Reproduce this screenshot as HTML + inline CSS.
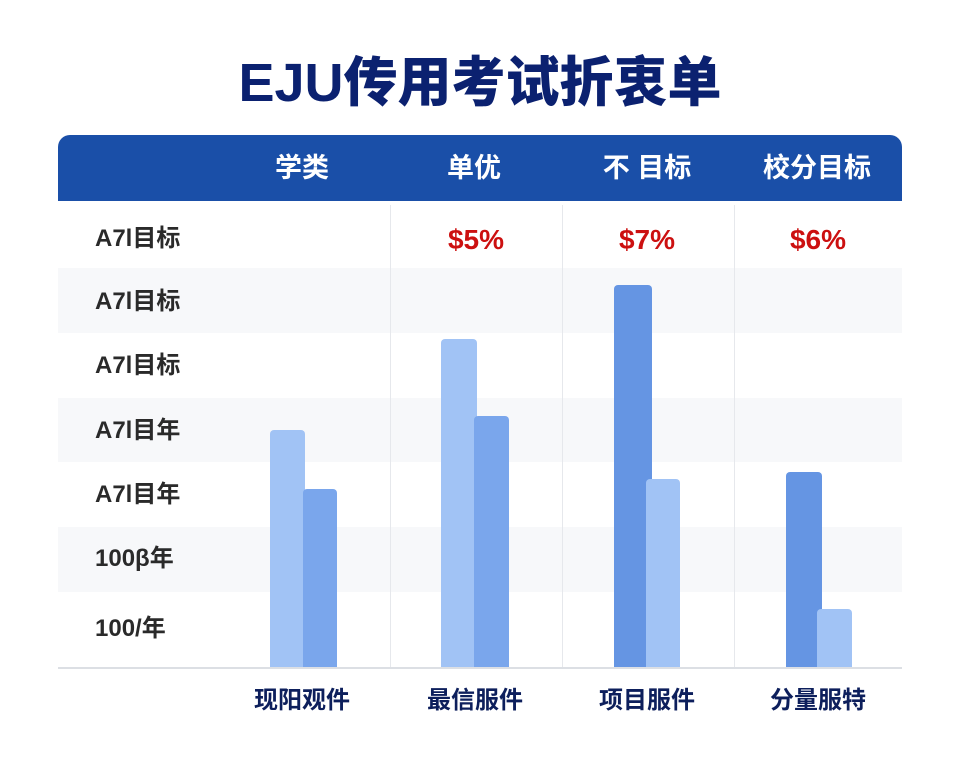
<!DOCTYPE html>
<html><head><meta charset="utf-8"><style>
body{margin:0;width:960px;height:768px;background:#fff;position:relative;overflow:hidden;font-family:"Liberation Sans","Noto Sans CJK SC",sans-serif}
.a{position:absolute}
.t{left:0;width:960px;top:48px;text-align:center;font-size:54px;font-weight:900;color:#0b2170;line-height:70px;letter-spacing:0}
.hd{left:58px;top:135px;width:844px;height:66px;background:#1a4fa8;border-radius:12px 12px 0 0}
.h{top:151px;color:#fff;font-size:27px;font-weight:700;width:160px;text-align:center;line-height:34px}
.g{left:58px;width:844px;background:#f7f8fa}
.l{left:95px;font-size:24px;font-weight:700;color:#2a2a2a;line-height:30px}
.r{top:223px;color:#cc1010;font-size:28px;font-weight:700;width:160px;text-align:center;line-height:34px}
.v{top:205px;width:1px;height:463px;background:#e6e8ec}
.b{border-radius:4px 4px 0 0}
.L{background:#a1c3f5}.M{background:#7aa6ec}.D{background:#6595e3}
.x{top:685px;font-size:24px;font-weight:700;color:#0d1f5c;width:160px;text-align:center;line-height:32px}
</style></head><body>
<div class="a t">EJU传用考试折衷单</div>
<div class="a hd"></div>
<div class="a h" style="left:222px">学类</div>
<div class="a h" style="left:394px">单优</div>
<div class="a h" style="left:567px">不 目标</div>
<div class="a h" style="left:737px">校分目标</div>
<div class="a g" style="top:268px;height:65px"></div>
<div class="a g" style="top:398px;height:64px"></div>
<div class="a g" style="top:527px;height:65px"></div>
<div class="a v" style="left:390px"></div>
<div class="a v" style="left:562px"></div>
<div class="a v" style="left:734px"></div>
<div class="a l" style="top:224px">A7l目标</div>
<div class="a l" style="top:287px">A7l目标</div>
<div class="a l" style="top:351px">A7l目标</div>
<div class="a l" style="top:416px">A7l目年</div>
<div class="a l" style="top:480px">A7l目年</div>
<div class="a l" style="top:544px">100β年</div>
<div class="a l" style="top:614px">100/年</div>
<div class="a r" style="left:396px">$5%</div>
<div class="a r" style="left:567px">$7%</div>
<div class="a r" style="left:738px">$6%</div>
<div class="a b L" style="left:270px;top:430px;width:35px;height:238px"></div>
<div class="a b M" style="left:303px;top:489px;width:34px;height:179px"></div>
<div class="a b L" style="left:441px;top:339px;width:36px;height:329px"></div>
<div class="a b M" style="left:474px;top:416px;width:35px;height:252px"></div>
<div class="a b D" style="left:614px;top:285px;width:38px;height:383px"></div>
<div class="a b L" style="left:646px;top:479px;width:34px;height:189px"></div>
<div class="a b D" style="left:786px;top:472px;width:36px;height:196px"></div>
<div class="a b L" style="left:817px;top:609px;width:35px;height:59px"></div>
<div class="a" style="left:58px;top:667px;width:844px;height:2px;background:#dcdfe4"></div>
<div class="a x" style="left:222px">现阳观件</div>
<div class="a x" style="left:395px">最信服件</div>
<div class="a x" style="left:567px">项目服件</div>
<div class="a x" style="left:738px">分量服特</div>
</body></html>
